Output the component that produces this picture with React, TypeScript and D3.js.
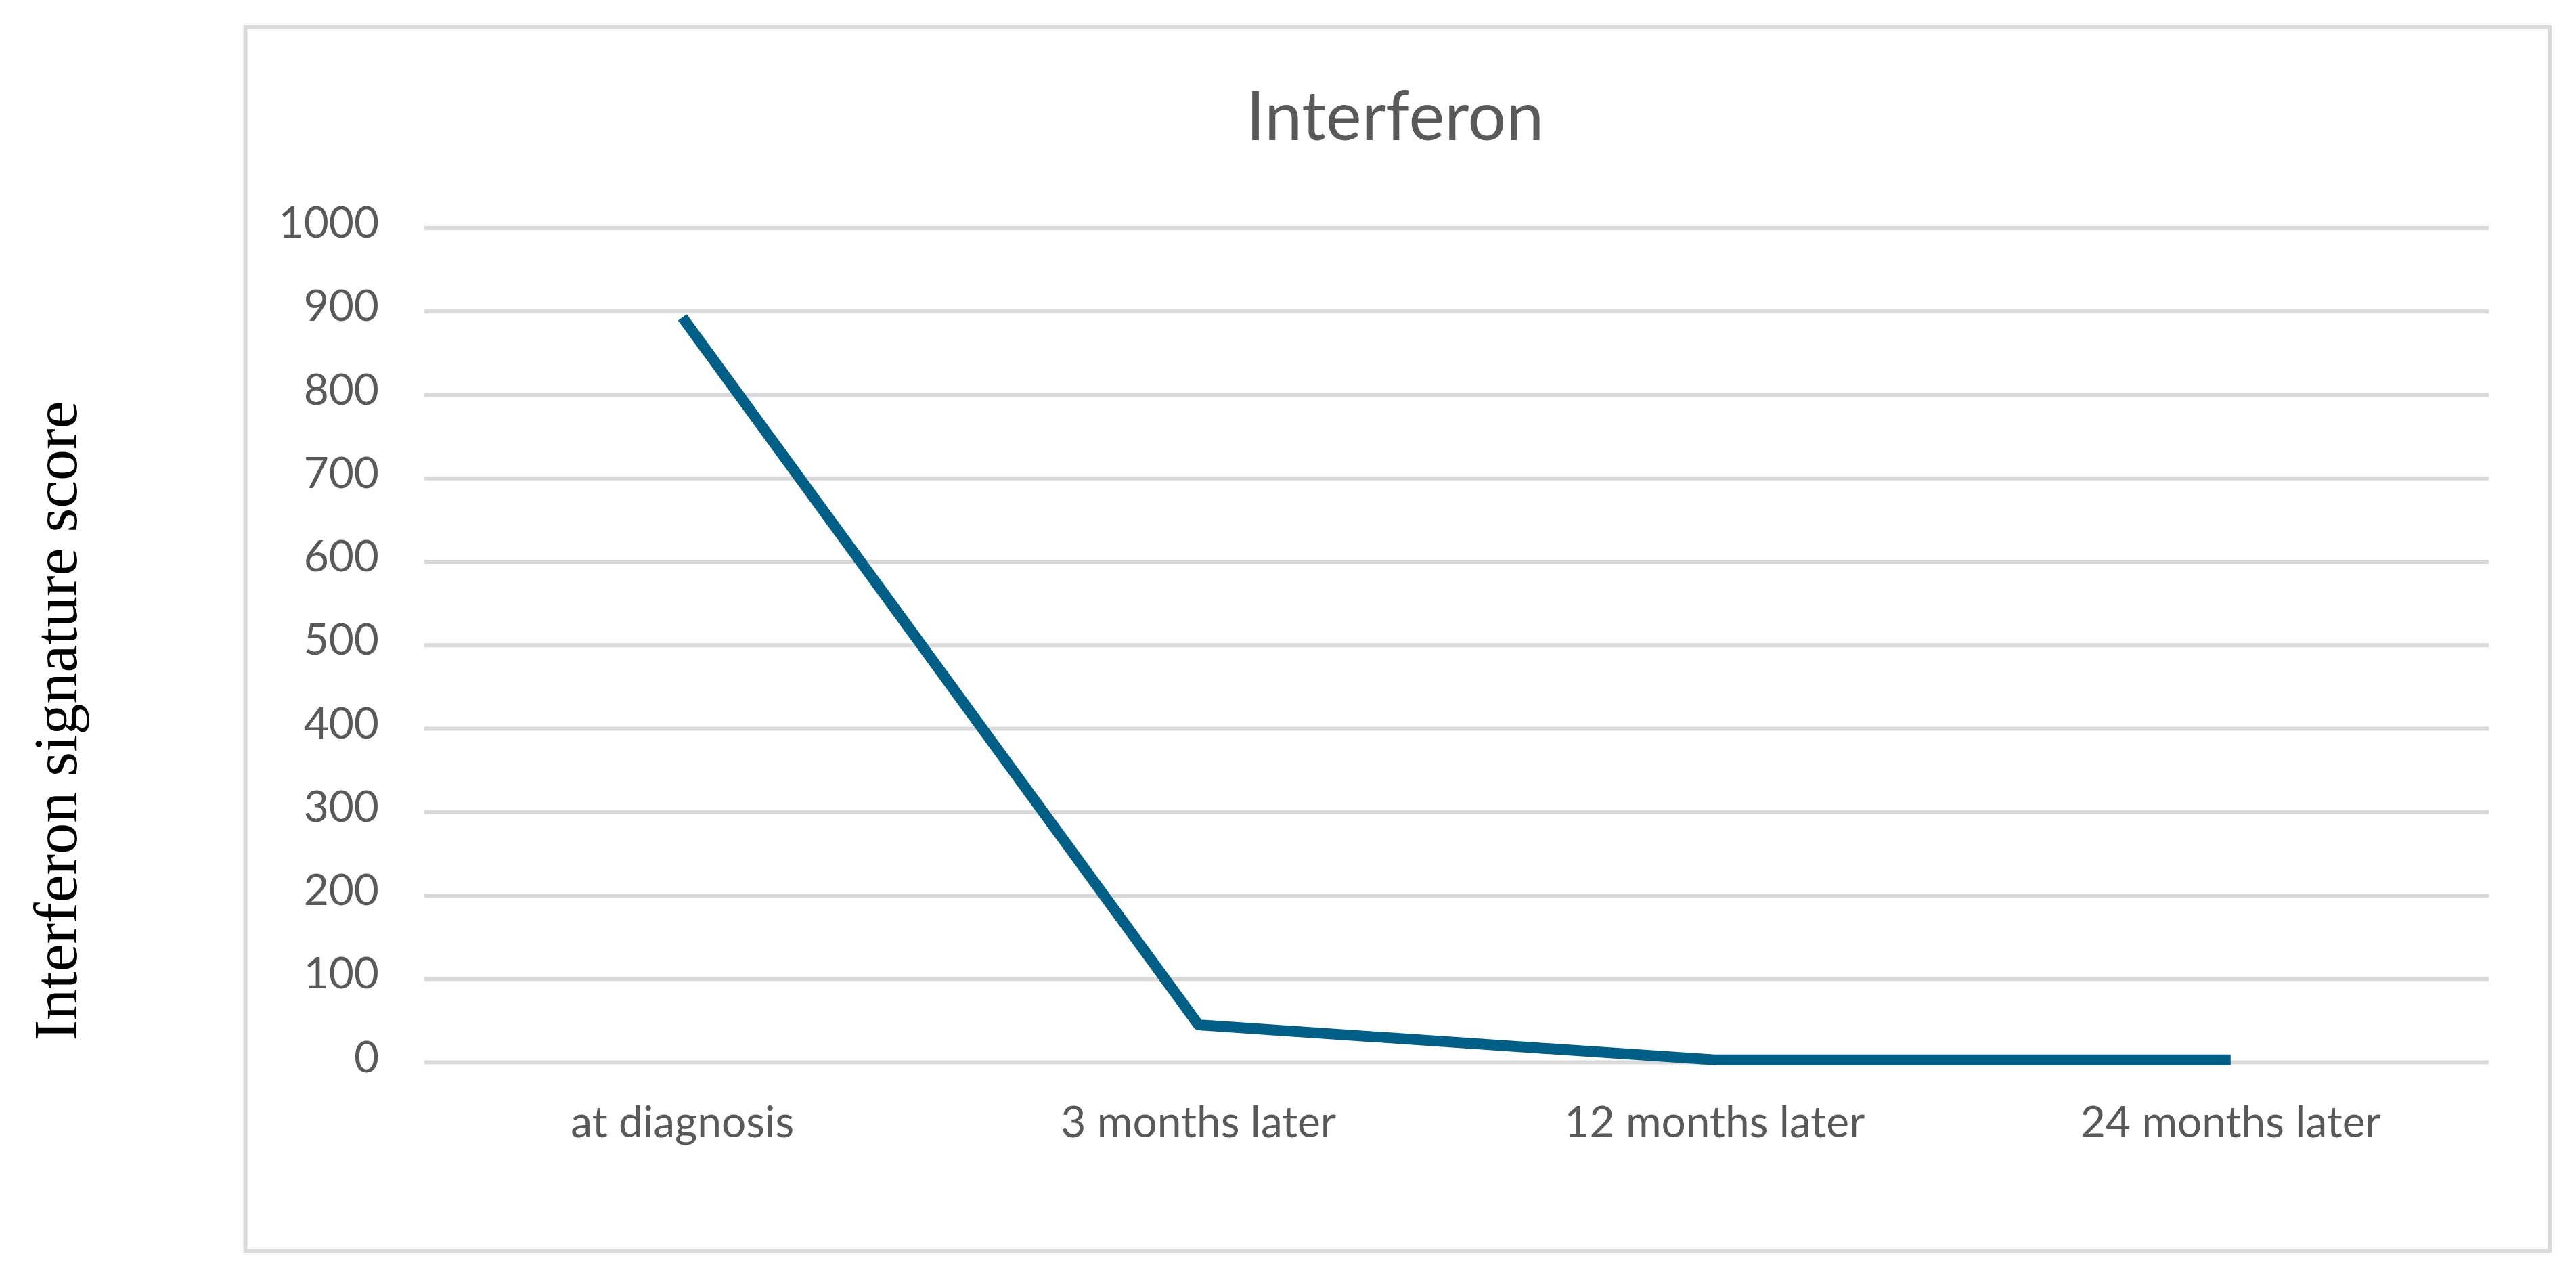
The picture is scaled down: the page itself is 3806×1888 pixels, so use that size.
import React from "react";
import * as d3 from "d3";

const categories = ["at diagnosis", "3 months later", "12 months later", "24 months later"];
const values = [893, 45, 3, 3];
const yTicks = [0, 100, 200, 300, 400, 500, 600, 700, 800, 900, 1000];
const chartTitle = "Interferon";
const yAxisTitle = "Interferon signature score";

const W = 3806;
const H = 1888;

export default function App() {
  const x = d3.scaleBand<string>().domain(categories).range([627, 3677]);
  const y = d3.scaleLinear().domain([0, 1000]).range([1569.5, 337]);
  const line = d3
    .line<number>()
    .x((_, i) => (x(categories[i]) as number) + x.bandwidth() / 2)
    .y((d) => y(d));

  const calibriLike = "Lato, 'Open Sans', sans-serif";

  return (
    <svg
      width={W}
      height={H}
      viewBox={`0 0 ${W} ${H}`}
      style={{ position: "absolute", left: 0, top: 0, background: "#ffffff" }}
    >
      <rect x={0} y={0} width={W} height={H} fill="#ffffff" />
      {/* chart border */}
      <rect x={362.5} y={40} width={3767 - 362.5} height={1848 - 40} fill="none" stroke="#d9d9d9" strokeWidth={6} />

      {/* title */}
      <text x={2061} y={207} textAnchor="middle" fontFamily={calibriLike} fontSize={100} fill="#595959">
        {chartTitle}
      </text>

      {/* gridlines */}
      {yTicks.map((t) => (
        <line key={"g" + t} x1={627} x2={3677} y1={y(t)} y2={y(t)} stroke="#d9d9d9" strokeWidth={6} />
      ))}

      {/* y tick labels */}
      {yTicks.map((t) => (
        <text
          key={"l" + t}
          x={560}
          y={y(t) + 14}
          textAnchor="end"
          fontFamily={calibriLike}
          fontSize={64}
          fill="#595959"
        >
          {t}
        </text>
      ))}

      {/* x labels */}
      {categories.map((c) => (
        <text
          key={c}
          x={(x(c) as number) + x.bandwidth() / 2}
          y={1680}
          textAnchor="middle"
          fontFamily={calibriLike}
          fontSize={64}
          fill="#595959"
        >
          {c}
        </text>
      ))}

      {/* series line */}
      <path d={line(values) || ""} fill="none" stroke="#005f86" strokeWidth={16} strokeLinejoin="round" strokeLinecap="butt" />

      {/* y axis title */}
      <text
        transform={`translate(113, 1065) rotate(-90)`}
        textAnchor="middle"
        fontFamily="'Liberation Serif', 'Times New Roman', serif"
        fontSize={92}
        fill="#000000"
      >
        {yAxisTitle}
      </text>
    </svg>
  );
}
